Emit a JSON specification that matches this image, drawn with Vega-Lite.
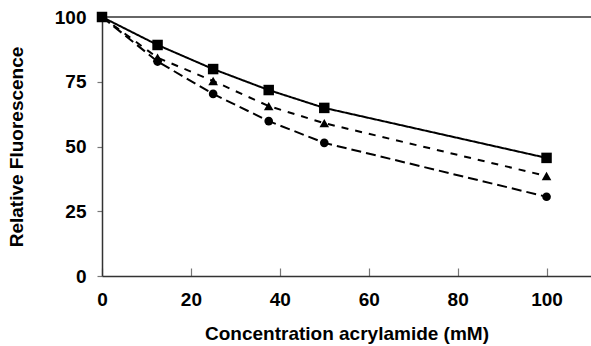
{
  "$schema": "https://vega.github.io/schema/vega-lite/v6.json",
  "width": 489,
  "height": 259,
  "autosize": {"type": "none"},
  "padding": {"left": 102, "top": 17, "right": 0, "bottom": 70},
  "background": "white",
  "config": {
    "view": {"stroke": null},
    "font": "Liberation Sans",
    "axis": {
      "grid": false,
      "labelFont": "Liberation Sans",
      "labelFontWeight": "bold",
      "labelFontSize": 19,
      "labelColor": "black",
      "titleFont": "Liberation Sans",
      "titleFontWeight": "bold",
      "titleFontSize": 19,
      "titleColor": "black",
      "domainColor": "#333333",
      "domainWidth": 1.5,
      "tickColor": "#777777",
      "tickWidth": 1.2
    }
  },
  "data": {
    "values": [
      {"conc": 0, "fluor": 100, "series": "A"},
      {"conc": 12.5, "fluor": 89.2, "series": "A"},
      {"conc": 25, "fluor": 79.9, "series": "A"},
      {"conc": 37.5, "fluor": 71.8, "series": "A"},
      {"conc": 50, "fluor": 64.9, "series": "A"},
      {"conc": 100, "fluor": 45.6, "series": "A"},
      {"conc": 0, "fluor": 100, "series": "B"},
      {"conc": 12.5, "fluor": 84.3, "series": "B"},
      {"conc": 25, "fluor": 75.3, "series": "B"},
      {"conc": 37.5, "fluor": 65.6, "series": "B"},
      {"conc": 50, "fluor": 59.0, "series": "B"},
      {"conc": 100, "fluor": 38.6, "series": "B"},
      {"conc": 0, "fluor": 100, "series": "C"},
      {"conc": 12.5, "fluor": 82.8, "series": "C"},
      {"conc": 25, "fluor": 70.3, "series": "C"},
      {"conc": 37.5, "fluor": 59.8, "series": "C"},
      {"conc": 50, "fluor": 51.4, "series": "C"},
      {"conc": 100, "fluor": 30.6, "series": "C"}
    ]
  },
  "layer": [
    {
      "mark": {"type": "rule", "color": "#666666", "strokeWidth": 1.2},
      "encoding": {
        "y": {"datum": 100, "type": "quantitative"}
      }
    },
    {
      "mark": {"type": "line", "color": "black", "strokeWidth": 2},
      "encoding": {
        "x": {"field": "conc", "type": "quantitative"},
        "y": {"field": "fluor", "type": "quantitative"},
        "detail": {"field": "series"},
        "strokeDash": {
          "field": "series",
          "type": "nominal",
          "scale": {"domain": ["A", "B", "C"], "range": [[1, 0], [7, 7], [10, 5]]},
          "legend": null
        }
      }
    },
    {
      "mark": {"type": "point", "filled": true, "color": "black", "opacity": 1},
      "encoding": {
        "x": {
          "field": "conc",
          "type": "quantitative",
          "scale": {"domain": [0, 110], "nice": false, "zero": false},
          "axis": {
            "title": "Concentration acrylamide (mM)",
            "values": [0, 20, 40, 60, 80, 100],
            "tickSize": -8,
            "labelFlush": false,
            "labelPadding": 22,
            "titlePadding": 15
          }
        },
        "y": {
          "field": "fluor",
          "type": "quantitative",
          "scale": {"domain": [0, 100], "nice": false},
          "axis": {
            "title": "Relative Fluorescence",
            "values": [0, 25, 50, 75, 100],
            "tickSize": 5,
            "labelFlush": false,
            "labelPadding": 11,
            "titlePadding": 28
          }
        },
        "shape": {
          "field": "series",
          "type": "nominal",
          "scale": {"domain": ["A", "B", "C"], "range": ["square", "triangle-up", "circle"]},
          "legend": null
        },
        "size": {
          "field": "series",
          "type": "nominal",
          "scale": {"domain": ["A", "B", "C"], "range": [110, 75, 80]},
          "legend": null
        }
      }
    }
  ]
}
